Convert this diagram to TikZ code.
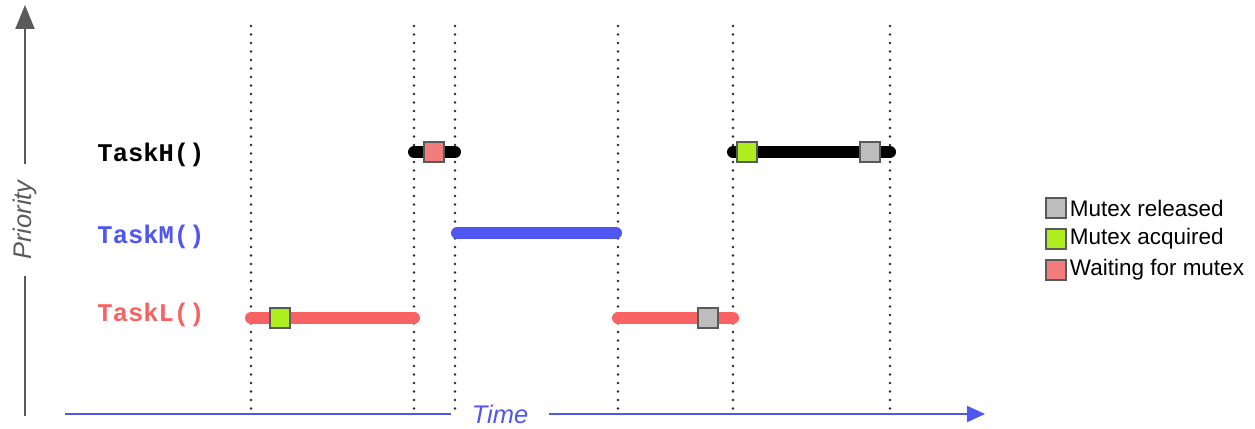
\documentclass[tikz,border=0pt]{standalone}
\usepackage{fontspec}
\setsansfont{Liberation Sans}
\setmonofont{Liberation Mono}
\usepackage{tikz}
\usetikzlibrary{positioning, arrows.meta}
\usepackage{xcolor}
\definecolor{taskred}{HTML}{F86262}
\definecolor{taskblue}{HTML}{4F56F2}
\definecolor{waitred}{HTML}{F27C7C}
\definecolor{acqgreen}{HTML}{AEEE1E}
\definecolor{relgray}{HTML}{BDBDBD}
\definecolor{axisgray}{HTML}{5A5A5A}
\definecolor{dotgray}{HTML}{2A2A2A}

\begin{document}
\begin{tikzpicture}[
    x=0.02cm, y=-0.02cm,
    tasklabel/.style={font=\ttfamily\bfseries\fontsize{14.5}{17}\selectfont, anchor=center},
    run/.style={line width=0.24cm, line cap=round},
    marker/.style={draw=axisgray, line width=0.6pt, minimum size=0.4cm, inner sep=0pt},
    legtext/.style={font=\sffamily\fontsize{12.8}{15}\selectfont, right=0.06cm, inner sep=0pt},
    axislabel/.style={font=\sffamily\itshape\fontsize{14.5}{17}\selectfont},
    slot/.style={dotgray, line width=1.6pt, dash pattern=on 0pt off 0.17cm, line cap=round}
]
\useasboundingbox (0,0) rectangle (1255,429);

% Priority axis
\coordinate (yorigin) at (25,416);
\coordinate (ytip) at (25,5);
\node[axislabel, text=axisgray, rotate=90, inner xsep=0.33cm] (prio) at (25,220) {Priority};
\draw[axisgray, line width=1.2pt] (yorigin) -- (prio.west);
\draw[axisgray, line width=1.2pt, -{Triangle[length=0.48cm, width=0.38cm]}] (prio.east) -- (ytip);

% Time axis
\coordinate (xorigin) at (65,414);
\coordinate (xtip) at (985,414);
\node[axislabel, text=taskblue, inner xsep=0.4cm] (time) at (500,414) {Time};
\draw[taskblue, line width=1.2pt] (xorigin) -- (time.west);
\draw[taskblue, line width=1.2pt, -{Triangle[length=0.36cm, width=0.32cm]}] (time.east) -- (xtip);

% Time slots
\foreach \t [count=\i] in {251, 414, 455, 618, 733, 890} {
    \coordinate (s\i) at (\t,26);
    \draw[slot] (s\i) -- (\t,412);
}

% Task labels
\node[tasklabel, text=black] (th) at (151,155) {TaskH()};
\node[tasklabel, text=taskblue] (tm) at (151,237) {TaskM()};
\node[tasklabel, text=taskred] (tl) at (151,315) {TaskL()};

% TaskL runs
\draw[run, taskred] (251,318) -- (414,318);
\draw[run, taskred] (618,318) -- (733,318);
\node[marker, fill=acqgreen] (lacq) at (280,318) {};
\node[marker, fill=relgray] (lrel) at (708,318) {};

% TaskM run
\draw[run, taskblue] (457,233) -- (616,233);

% TaskH runs
\draw[run, black] (414,152) -- (455,152);
\draw[run, black] (733,152) -- (890,152);
\node[marker, fill=waitred] (hwait) at (434,152) {};
\node[marker, fill=acqgreen] (hacq) at (747,152) {};
\node[marker, fill=relgray] (hrel) at (870,152) {};

% Legend
\node[marker, fill=relgray] (kr) at (1056,208) {};
\node[marker, fill=acqgreen] (ka) at (1056,239) {};
\node[marker, fill=waitred] (kw) at (1056,270) {};
\node[legtext, right=0.06cm of kr] {Mutex released};
\node[legtext, right=0.06cm of ka] {Mutex acquired};
\node[legtext, right=0.06cm of kw] {Waiting for mutex};

\end{tikzpicture}
\end{document}
